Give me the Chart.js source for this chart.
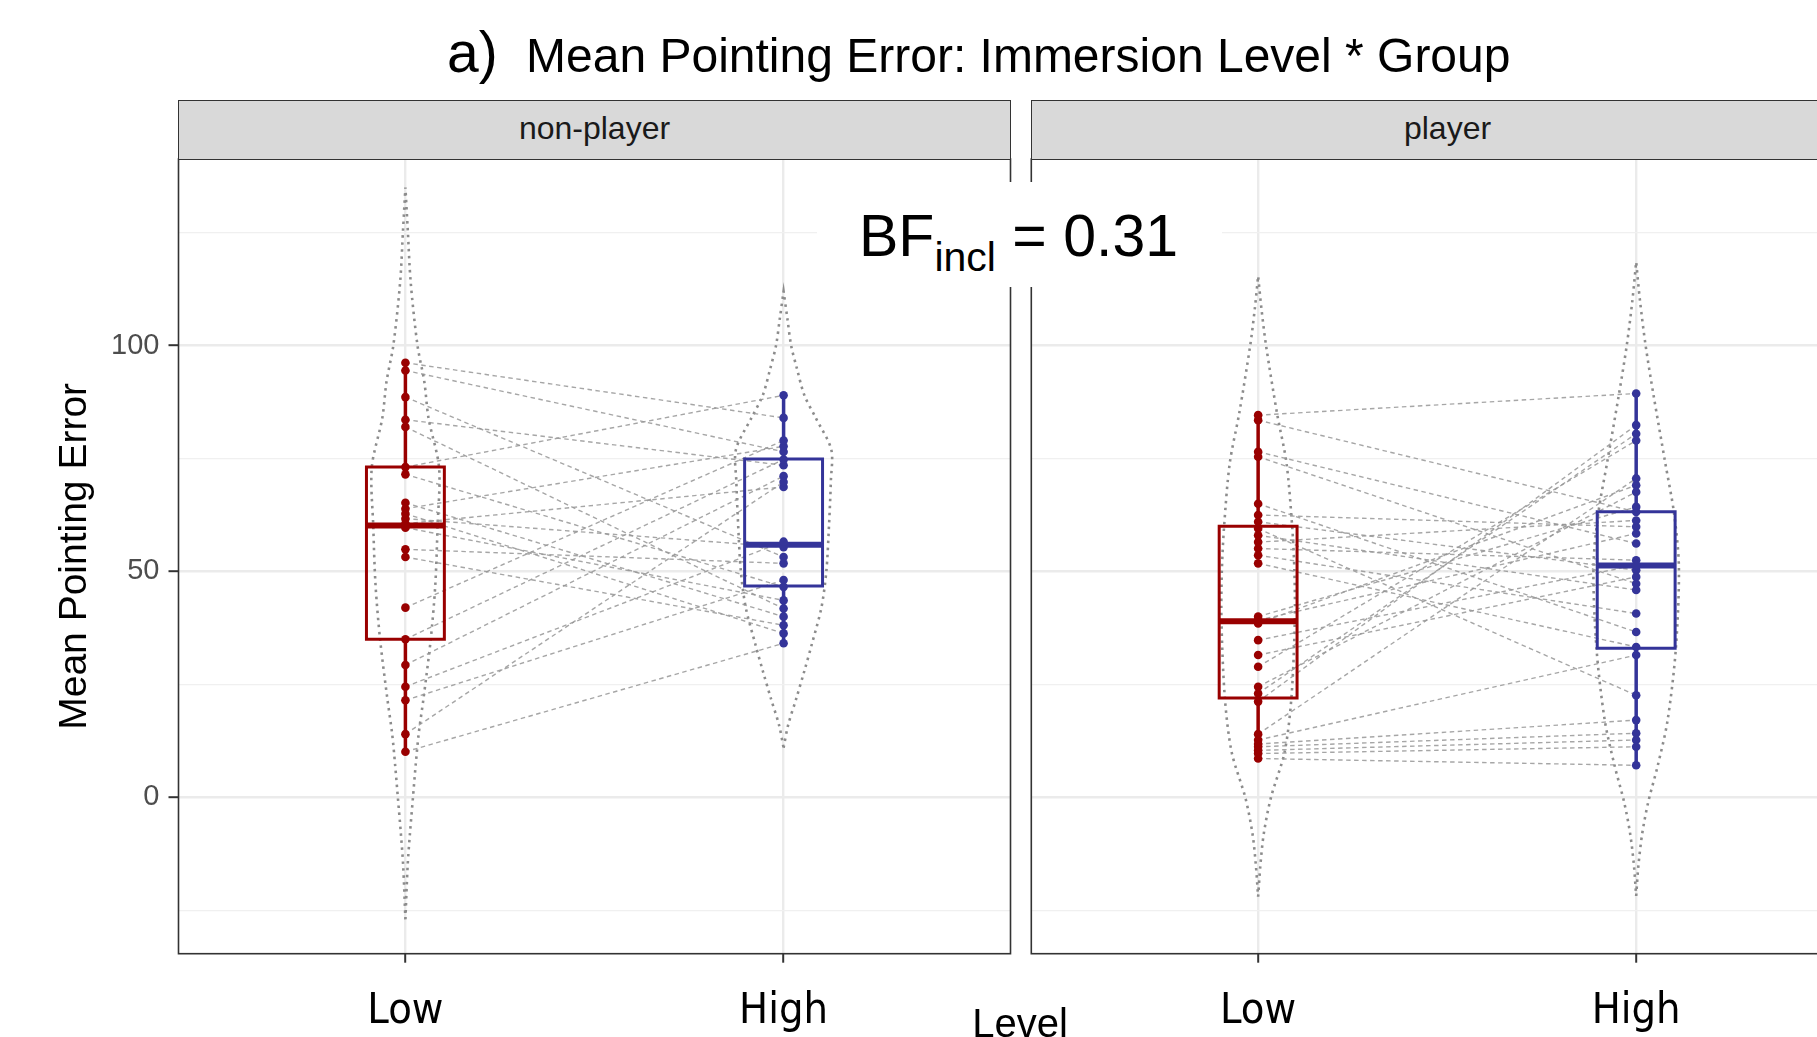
<!DOCTYPE html>
<html>
<head>
<meta charset="utf-8">
<script src="https://cdn.jsdelivr.net/npm/chart.js@4.4.0/dist/chart.umd.min.js"></script>
<style>
  html, body { margin: 0; padding: 0; background: #fff; }
  body { width: 1817px; height: 1037px; overflow: hidden; position: relative;
         font-family: "Liberation Sans", Arial, sans-serif; color: #000; }
  canvas { position: absolute; top: 0; }
  #c1 { left: 0; }
  #c2 { left: 1026px; }
  .strip { position: absolute; top: 100px; height: 60px; width: 833px; background: #d9d9d9;
           border: 1.6px solid #333; box-sizing: border-box; font-size: 32px; color: #1a1a1a;
           text-align: center; line-height: 55px; }
  #s1 { left: 178px; }
  #s2 { left: 1031px; }
  #title { position: absolute; left: 447px; top: 22px; font-size: 48px; line-height: 60px; white-space: nowrap; }
  #title .a { font-size: 57px; margin-right: 15px; }
  #level { position: absolute; left: 1020px; top: 1003px; transform: translateX(-50%);
           font-size: 40px; line-height: 40px; white-space: nowrap; }
  #bf { position: absolute; left: 817px; top: 182px; width: 405px; height: 105px; background: #fff; }
  #bftext { position: absolute; left: 42px; top: 19px; font-size: 59px; line-height: 70px; white-space: nowrap; }
  #bftext .sub { font-size: 41px; position: relative; top: 15px; }
</style>
</head>
<body>
<canvas id="c1" width="1025" height="1037"></canvas>
<canvas id="c2" width="852" height="1037"></canvas>
<div class="strip" id="s1">non-player</div>
<div class="strip" id="s2">player</div>
<div id="title"><span class="a">a)</span> Mean Pointing Error: Immersion Level * Group</div>
<div id="level">Level</div>
<div id="bf"><div id="bftext">BF<span class="sub">incl</span> = 0.31</div></div>

<script>
// categories
var levels = ["Low", "High"];
var groups = ["non-player", "player"];
var yGrid = [-25, 0, 25, 50, 75, 100, 125];

// paired observations: low[i] belongs to the same participant as high[i]
var nonPlayerLow  = [96.2, 94.5, 88.6, 83.6, 82.0, 73.1, 71.5, 65.2, 63.9, 62.8, 61.7, 60.6, 59.7, 54.9, 53.2, 42.0, 35.0, 29.3, 24.5, 21.5, 14.0, 10.1];
var nonPlayerHigh = [84.0, 76.5, 53.2, 73.5, 41.8, 89.0, 46.6, 40.0, 77.7, 36.3, 55.4, 68.7, 43.6, 51.8, 38.1, 79.0, 74.8, 71.1, 56.6, 48.1, 69.8, 34.1];
var playerLow  = [84.6, 83.5, 76.5, 75.4, 65.0, 62.5, 61.0, 59.5, 58.0, 56.5, 55.1, 53.6, 51.8, 40.0, 39.2, 38.5, 34.8, 31.5, 28.9, 24.5, 23.0, 21.2, 14.0, 12.7, 11.8, 11.2, 10.4, 9.7, 8.6];
var playerHigh = [89.4, 63.2, 56.2, 47.3, 36.6, 59.9, 50.3, 22.6, 45.9, 61.3, 52.5, 40.7, 33.3, 64.3, 58.4, 69.1, 51.4, 48.8, 79.0, 67.6, 80.5, 82.4, 70.6, 31.5, 17.1, 14.2, 12.7, 11.2, 7.1];

// box stats: [lower whisker, q1, median, q3, upper whisker]
var nonPlayerLowBox  = [10.1, 35.0, 60.2, 73.1, 96.2];
var nonPlayerHighBox = [34.1, 46.8, 55.9, 74.9, 89.0];
var playerLowBox  = [8.6, 22.0, 39.0, 60.0, 84.6];
var playerHighBox = [7.1, 33.0, 51.3, 63.2, 89.4];

// violin outlines: value levels and half widths (in category units)
var npLowVioY = [-27, -15, -8, 0, 7, 14, 22, 35, 47, 60, 73, 84, 92, 100, 114, 126, 135];
var npLowVioW = [0, 0.006, 0.012, 0.02, 0.027, 0.035, 0.048, 0.067, 0.079, 0.085, 0.089, 0.061, 0.05, 0.032, 0.014, 0.006, 0];
var npHighVioY = [11, 16, 22, 28, 34, 42, 50, 60, 70, 77, 84, 89, 95, 100, 106, 112];
var npHighVioW = [0, 0.012, 0.034, 0.055, 0.075, 0.1, 0.113, 0.12, 0.125, 0.126, 0.085, 0.055, 0.035, 0.02, 0.01, 0];
var pLowVioY = [-22, -15, -8, 0, 10, 22, 39, 50, 60, 74, 85, 100, 108, 115.4];
var pLowVioW = [0, 0.006, 0.015, 0.034, 0.07, 0.088, 0.097, 0.096, 0.09, 0.075, 0.05, 0.021, 0.009, 0];
var pHighVioY = [-21.8, -15, -8, -1, 7, 17, 33, 51, 63, 74, 89, 100, 110, 118.5];
var pHighVioW = [0, 0.006, 0.016, 0.032, 0.057, 0.083, 0.105, 0.113, 0.1, 0.077, 0.046, 0.025, 0.01, 0];

var RED = "#990000";
var BLUE = "#343499";
var FONT = '"Liberation Sans", Arial, sans-serif';
var NARROW = '"Liberation Sans Narrow", "DejaVu Sans Condensed", "Arial Narrow", sans-serif';
var BOX_HALF = 0.103;

// panel border, drawn over everything like ggplot does
var framePlugin = {
  id: "frame",
  afterDatasetsDraw: function (chart) {
    var a = chart.chartArea, ctx = chart.ctx;
    ctx.save();
    ctx.strokeStyle = "#333";
    ctx.lineWidth = 1.6;
    ctx.strokeRect(a.left, a.top, a.right - a.left, a.bottom - a.top);
    ctx.restore();
  }
};

function violin(center, ys, ws) {
  var right = ys.map((y, i) => ({ x: center + ws[i], y: y }));
  var left = ys.map((y, i) => ({ x: center - ws[i], y: y })).reverse();
  return {
    data: right.concat(left), showLine: true, pointRadius: 0, tension: 0.3,
    borderColor: "#8c8c8c", borderWidth: 2.6, borderDash: [2.5, 4.5], fill: false, order: 3
  };
}

function box(center, s, color) {
  var w = BOX_HALF;
  var base = { showLine: true, pointRadius: 0, tension: 0, fill: false, borderColor: color, order: 1 };
  return [
    Object.assign({}, base, { borderWidth: 3, borderCapStyle: "square",
      data: [{ x: center - w, y: s[1] }, { x: center + w, y: s[1] }, { x: center + w, y: s[3] }, { x: center - w, y: s[3] }, { x: center - w, y: s[1] }] }),
    Object.assign({}, base, { borderWidth: 6, data: [{ x: center - w, y: s[2] }, { x: center + w, y: s[2] }] }),
    Object.assign({}, base, { borderWidth: 3.5, data: [{ x: center, y: s[0] }, { x: center, y: s[1] }] }),
    Object.assign({}, base, { borderWidth: 3.5, data: [{ x: center, y: s[3] }, { x: center, y: s[4] }] })
  ];
}

function dots(center, vals, color) {
  return {
    data: vals.map(v => ({ x: center, y: v })), showLine: false, pointRadius: 4.3,
    pointBackgroundColor: color, pointBorderWidth: 0, pointHoverRadius: 0, order: 0
  };
}

function pairs(low, high) {
  return low.map((v, i) => ({
    data: [{ x: 1, y: v }, { x: 2, y: high[i] }], showLine: true, pointRadius: 0,
    borderColor: "rgba(150,150,150,0.85)", borderWidth: 1.4, borderDash: [4.5, 3.5], fill: false, order: 2
  }));
}

function gridColor(ctx) { return ctx.tick && ctx.tick.value % 50 === 0 ? "#ebebeb" : "#f0f0f0"; }
function gridWidth(ctx) { return ctx.tick && ctx.tick.value % 50 === 0 ? 2.4 : 1.3; }

function makePanel(id, low, high, lowBox, highBox, lowVio, highVio, first) {
  var datasets = [violin(1, lowVio[0], lowVio[1]), violin(2, highVio[0], highVio[1])]
    .concat(pairs(low, high))
    .concat(box(1, lowBox, RED)).concat(box(2, highBox, BLUE))
    .concat([dots(1, low, RED), dots(2, high, BLUE)]);

  var yScale = {
    type: "linear", min: -34.6, max: 141.3,
    afterBuildTicks: s => { s.ticks = yGrid.map(v => ({ value: v })); },
    grid: { color: gridColor, lineWidth: gridWidth },
    border: { display: false }
  };
  if (first) {
    yScale.afterFit = s => { s.width = 178.5; };
    yScale.ticks = { callback: v => (v % 50 === 0 ? String(v) : ""), color: "#4d4d4d",
                     font: { family: FONT, size: 29 }, padding: 9 };
    yScale.grid.tickColor = ctx => (ctx.tick && ctx.tick.value % 50 === 0 ? "#333" : "rgba(0,0,0,0)");
    yScale.grid.tickLength = 10;
    yScale.grid.tickWidth = 2;
    yScale.title = { display: true, text: "Mean Pointing Error", color: "#000",
                     font: { family: FONT, size: 39 }, padding: { top: 52, bottom: 0 } };
  } else {
    yScale.afterFit = s => { s.width = 0; };
    yScale.ticks = { display: false };
    yScale.grid.drawTicks = false;
  }

  return new Chart(document.getElementById(id).getContext("2d"), {
    type: "scatter",
    data: { datasets: datasets },
    options: {
      responsive: false, animation: false, events: [],
      layout: { padding: first ? { left: 0, top: 159, right: 14.5, bottom: 0 } : { left: 5.3, top: 159, right: 15, bottom: 0 } },
      plugins: { legend: { display: false }, tooltip: { enabled: false } },
      scales: {
        x: {
          type: "linear", min: 0.4, max: 2.6,
          afterBuildTicks: s => { s.ticks = [{ value: 1 }, { value: 2 }]; },
          afterFit: s => { s.height = 83.3; },
          ticks: { callback: v => levels[Math.round(v) - 1], color: "#000", maxRotation: 0, autoSkip: false,
                   font: { family: NARROW, size: 43 }, padding: 23 },
          grid: { color: "#ebebeb", lineWidth: 2.4, tickColor: "#333", tickLength: 9, tickWidth: 2 },
          border: { display: false }
        },
        y: yScale
      }
    },
    plugins: [framePlugin]
  });
}

makePanel("c1", nonPlayerLow, nonPlayerHigh, nonPlayerLowBox, nonPlayerHighBox,
          [npLowVioY, npLowVioW], [npHighVioY, npHighVioW], true);
makePanel("c2", playerLow, playerHigh, playerLowBox, playerHighBox,
          [pLowVioY, pLowVioW], [pHighVioY, pHighVioW], false);
</script>
</body>
</html>
